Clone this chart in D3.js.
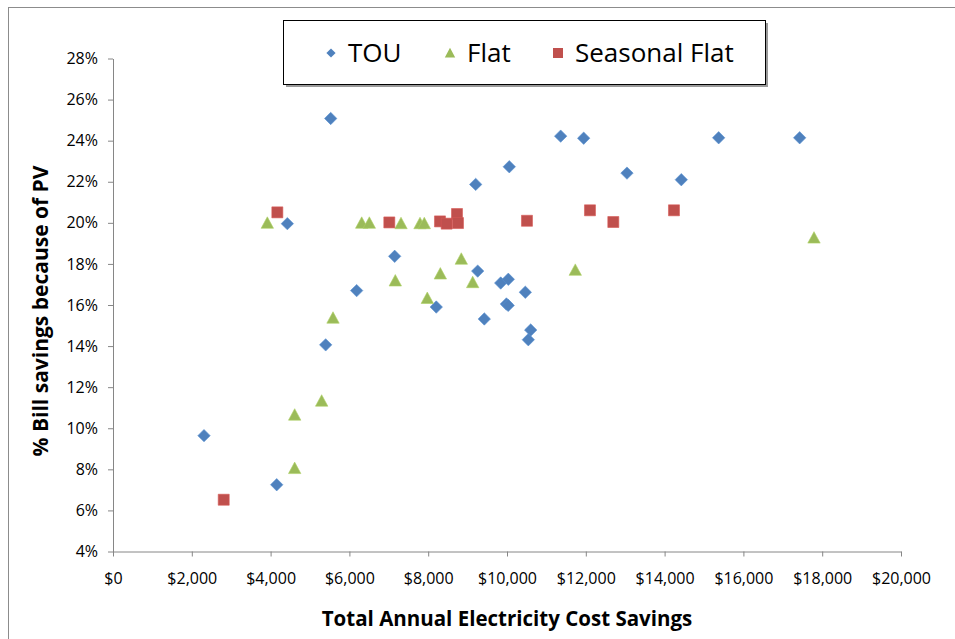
<!DOCTYPE html>
<html>
<head>
<meta charset="utf-8">
<script src="https://cdn.jsdelivr.net/npm/d3@7"></script>
<style>
  body { margin: 0; background: #fff; }
  svg { display: block; font-family: "Open Sans", sans-serif; }
  .axis path, .axis line { stroke: #868686; }
  .axis text { fill: #000; font-size: 16px; font-family: "Open Sans", sans-serif; }
</style>
</head>
<body>
<div id="chart"></div>
<script>
// series data: [annual savings ($), bill savings (%)]
var seriesNames = ['TOU', 'Flat', 'Seasonal Flat'];
var seriesColors = ['#4F81BD', '#9BBB59', '#C0504D'];

var touData = [
  [2310, 9.64], [4155, 7.25], [4425, 19.96], [5525, 25.08], [5398, 14.06],
  [6184, 16.70], [7149, 18.37], [8205, 15.90], [9205, 21.87], [9256, 17.65],
  [9424, 15.32], [9840, 17.07], [10033, 17.25], [9985, 16.05], [10030, 15.98],
  [10058, 22.73], [10465, 16.62], [10541, 14.31], [10601, 14.78], [11362, 24.22],
  [11946, 24.12], [13045, 22.42], [14424, 22.10], [15372, 24.14], [17428, 24.14]
];
var flatData = [
  [3917, 19.99], [4611, 8.05], [4611, 10.65], [5296, 11.33], [5584, 15.37],
  [6312, 19.99], [6506, 19.99], [7165, 17.18], [7310, 19.97], [7792, 19.97],
  [7901, 19.97], [7977, 16.33], [8308, 17.52], [8840, 18.24], [9129, 17.10],
  [11733, 17.70], [17792, 19.27]
];
var seasonalData = [
  [2810, 6.52], [4171, 20.51], [7013, 20.02], [8299, 20.07], [8469, 19.96],
  [8731, 20.43], [8756, 19.99], [10507, 20.10], [12106, 20.61], [12698, 20.04],
  [14238, 20.61]
];

var xTicks = [0, 2000, 4000, 6000, 8000, 10000, 12000, 14000, 16000, 18000, 20000];
var yTicks = [4, 6, 8, 10, 12, 14, 16, 18, 20, 22, 24, 26, 28];

var width = 955, height = 639;
var margin = {top: 58.5, right: 54, bottom: 87.5, left: 113};

var svg = d3.select('#chart').append('svg')
  .attr('width', width)
  .attr('height', height);

// chart frame
svg.append('rect')
  .attr('x', 8.5).attr('y', 7.5)
  .attr('width', width + 20).attr('height', height + 20)
  .attr('fill', 'none')
  .attr('stroke', '#8c8c8c');

var x = d3.scaleLinear().domain([0, 20000]).range([margin.left, width - margin.right]);
var y = d3.scaleLinear().domain([4, 28]).range([height - margin.bottom, margin.top]);

// x axis
var xAxis = svg.append('g')
  .attr('class', 'axis')
  .attr('transform', 'translate(0,' + (height - margin.bottom) + ')')
  .call(d3.axisBottom(x).tickValues(xTicks).tickSize(5).tickSizeOuter(0)
    .tickFormat(function(d) { return '$' + d3.format(',')(d); }));
xAxis.selectAll('text').attr('dy', null).attr('y', 32);

// y axis
var yAxis = svg.append('g')
  .attr('class', 'axis')
  .attr('transform', 'translate(' + margin.left + ',0)')
  .call(d3.axisLeft(y).tickValues(yTicks).tickSize(5).tickSizeOuter(0)
    .tickFormat(function(d) { return d + '%'; }));
yAxis.selectAll('text').attr('x', -15);

// axis titles
svg.append('text')
  .attr('x', 507)
  .attr('y', 626)
  .attr('text-anchor', 'middle')
  .attr('font-weight', 'bold')
  .attr('font-size', 20.5)
  .text('Total Annual Electricity Cost Savings');

svg.append('text')
  .attr('transform', 'translate(48,' + 311 + ') rotate(-90)')
  .attr('text-anchor', 'middle')
  .attr('font-weight', 'bold')
  .attr('font-size', 21)
  .text('% Bill savings because of PV');

// marker shapes
function markerPath(kind, s) {
  if (kind === 0) return 'M0,' + (-s) + 'L' + s + ',0L0,' + s + 'L' + (-s) + ',0Z';
  if (kind === 1) return 'M0,' + (-s) + 'L' + s + ',' + (s * 0.85) + 'L' + (-s) + ',' + (s * 0.85) + 'Z';
  return 'M' + (-s) + ',' + (-s) + 'H' + s + 'V' + s + 'H' + (-s) + 'Z';
}

var allSeries = [touData, flatData, seasonalData];
var markerSize = [6.2, 6.2, 5.5];

allSeries.forEach(function(data, i) {
  svg.append('g')
    .selectAll('path')
    .data(data)
    .enter().append('path')
    .attr('transform', function(d) { return 'translate(' + x(d[0]) + ',' + y(d[1]) + ')'; })
    .attr('d', markerPath(i, markerSize[i]))
    .attr('fill', seriesColors[i])
    .attr('stroke', d3.color(seriesColors[i]).brighter(0.3))
    .attr('stroke-width', 0.6);
});

// legend
var legend = svg.append('g');
legend.append('rect')
  .attr('x', 286).attr('y', 23)
  .attr('width', 482).attr('height', 64)
  .attr('fill', '#9a9a9a');
legend.append('rect')
  .attr('x', 283.5).attr('y', 20.5)
  .attr('width', 482).attr('height', 64)
  .attr('fill', '#fff')
  .attr('stroke', '#000');

var legendX = [331, 450, 558];
var legendSize = [4.6, 5.2, 5];
seriesNames.forEach(function(name, i) {
  legend.append('path')
    .attr('transform', 'translate(' + legendX[i] + ',53)')
    .attr('d', markerPath(i, legendSize[i]))
    .attr('fill', seriesColors[i]);
  legend.append('text')
    .attr('x', legendX[i] + 17)
    .attr('y', 62)
    .attr('font-size', 26)
    .attr('fill', '#000')
    .text(name);
});
</script>
</body>
</html>
